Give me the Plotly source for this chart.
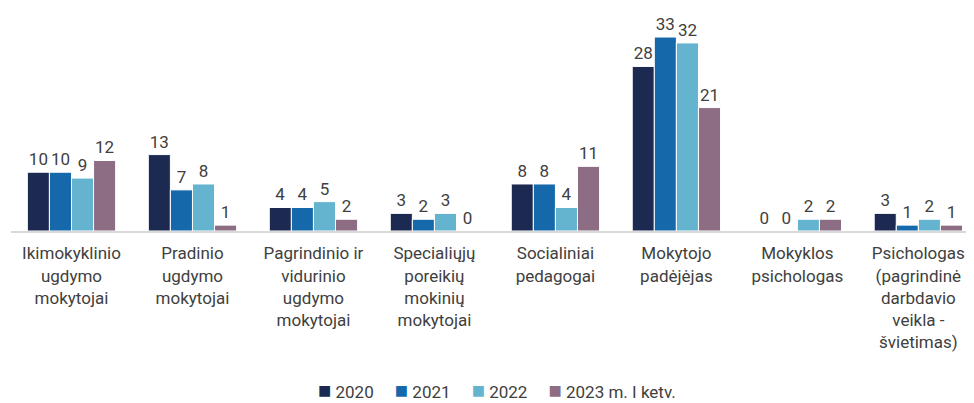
import plotly.graph_objects as go

categories = [
    "Ikimokyklinio<br>ugdymo<br>mokytojai",
    "Pradinio<br>ugdymo<br>mokytojai",
    "Pagrindinio ir<br>vidurinio<br>ugdymo<br>mokytojai",
    "Specialiųjų<br>poreikių<br>mokinių<br>mokytojai",
    "Socialiniai<br>pedagogai",
    "Mokytojo<br>padėjėjas",
    "Mokyklos<br>psichologas",
    "Psichologas<br>(pagrindinė<br>darbdavio<br>veikla -<br>švietimas)",
]
y2020 = [10, 13, 4, 3, 8, 28, 0, 3]
y2021 = [10, 7, 4, 2, 8, 33, 0, 1]
y2022 = [9, 8, 5, 3, 4, 32, 2, 2]
y2023 = [12, 1, 2, 0, 11, 21, 2, 1]

series = [
    ("2020", y2020, "#1c2951"),
    ("2021", y2021, "#1569aa"),
    ("2022", y2022, "#64b4cf"),
    ("2023 m. I ketv.", y2023, "#8c6d84"),
]

fig = go.Figure()
for name, vals, color in series:
    fig.add_trace(go.Bar(
        x=categories,
        y=vals,
        name=name,
        marker=dict(color=color, line=dict(color="white", width=1)),
        text=vals,
        textposition="outside",
        cliponaxis=False,
        textfont=dict(size=17, color="#404040"),
    ))

# compact legend as one line of text (plotly's own legend spaces items too widely)
legend_text = "&nbsp;&nbsp;&nbsp;&nbsp;&nbsp;".join(
    f"<span style='color:{color};font-size:22px'>■</span>&nbsp;{name}"
    for name, _, color in series
)
fig.add_annotation(
    text=legend_text, showarrow=False,
    xref="paper", yref="paper", x=0.505, y=-0.758,
    xanchor="center", yanchor="middle",
    font=dict(size=17, color="#404040"),
)

# page body has an 8px margin, so the figure is sized to the visible area
fig.update_layout(
    width=966,
    height=395,
    barmode="group",
    bargap=0.27,
    bargroupgap=0,
    plot_bgcolor="white",
    paper_bgcolor="white",
    font=dict(family="Roboto, Noto Sans, sans-serif", size=17, color="#404040"),
    margin=dict(l=3, r=0, t=12, b=172, autoexpand=False),
    showlegend=False,
)
fig.update_xaxes(
    range=[-0.5, 7.46],
    showline=True, linecolor="#d9d9d9", linewidth=2,
    ticks="", tickfont=dict(size=17, color="#404040"),
    tickangle=0, automargin=False, ticklabelstandoff=6,
)
fig.update_yaxes(range=[0, 35.9], visible=False, showgrid=False)

fig.write_html("out.html")
